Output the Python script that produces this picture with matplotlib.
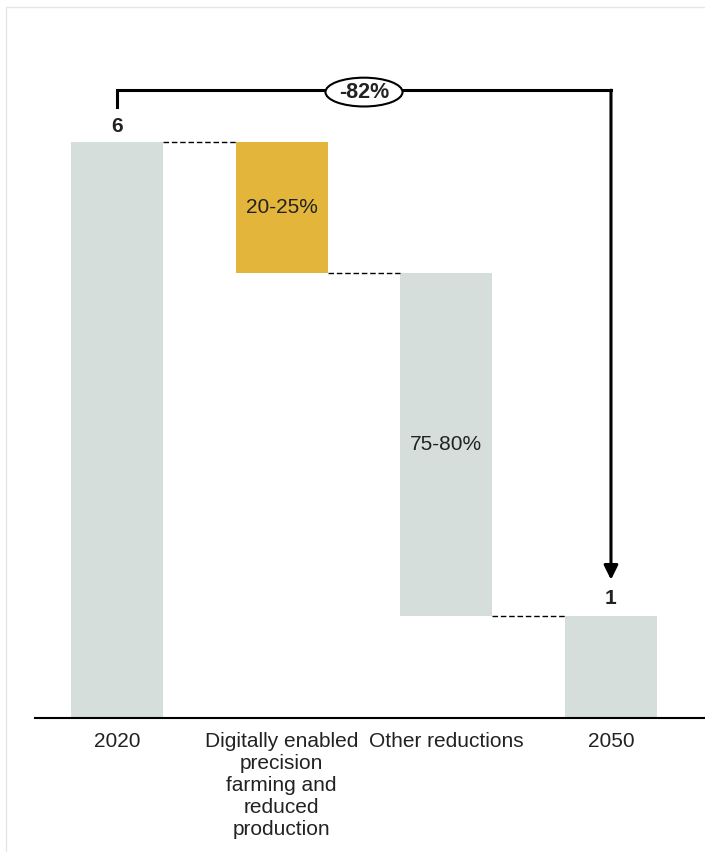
import matplotlib.pyplot as plt
from matplotlib.patches import Rectangle, Ellipse

plt.rcParams['font.family'] = ['Liberation Sans', 'DejaVu Sans']

# Emissions waterfall, 2020 -> 2050
categories = ["2020", "Digitally enabled\nprecision\nfarming and\nreduced\nproduction",
              "Other reductions", "2050"]
start_value = 6.0
reductions = [1.36, 3.58]
reduction_labels = ["20-25%", "75-80%"]
end_value = start_value - sum(reductions)
total_change_label = "-82%"

GRAY = "#d5dedb"
GOLD = "#e3b53b"
TEXT = "#222222"

fig = plt.figure(figsize=(7.05, 8.52), dpi=100)
ax = fig.add_axes([35 / 705, 134 / 852, 670 / 705, 698 / 852])

# light frame around the figure
fig.patches.append(Rectangle((6 / 705, -0.05), 1.2, 1 - 7 / 852 + 0.05,
                             transform=fig.transFigure, fill=False,
                             edgecolor="#e3e6e5", linewidth=1.0))

x = list(range(len(categories)))
width = 0.56

# totals
ax.bar(x[0], start_value, width=width, color=GRAY)
ax.bar(x[3], end_value, width=width, color=GRAY)

# floating reduction segments
level = start_value
colors = [GOLD, GRAY]
for i, (r, lab, c) in enumerate(zip(reductions, reduction_labels, colors)):
    ax.bar(x[i + 1], -r, bottom=level, width=width, color=c)
    ax.text(x[i + 1], level - r / 2, lab, ha="center", va="center",
            fontsize=15, color=TEXT)
    level -= r

# dashed connectors between bars
levels = [start_value, start_value - reductions[0], end_value]
for i, lv in enumerate(levels):
    ax.plot([x[i] + width / 2, x[i + 1] - width / 2], [lv, lv],
            color="black", linestyle=(0, (4, 2)), linewidth=1.0)

# total labels
ax.text(x[0], start_value + 0.16, f"{start_value:.0f}", ha="center", va="center",
        fontsize=15, fontweight="bold", color=TEXT)
ax.text(x[3], end_value + 0.18, f"{end_value:.0f}", ha="center", va="center",
        fontsize=15, fontweight="bold", color=TEXT)

# bracket with arrow showing the overall change
top_y = 6.54
ax.plot([x[0], x[0], x[3]], [start_value + 0.36, top_y, top_y],
        color="black", linewidth=2.2, solid_joinstyle="miter",
        solid_capstyle="projecting", clip_on=False)
ax.annotate("", xy=(x[3], end_value + 0.38), xytext=(x[3], top_y),
            arrowprops=dict(arrowstyle="-|>,head_length=0.85,head_width=0.42",
                            color="black", linewidth=2.2, shrinkA=0, shrinkB=0),
            annotation_clip=False)
ax.add_patch(Ellipse((1.5, top_y - 0.02), 0.468, 0.30, facecolor="white",
                     edgecolor="black", linewidth=1.5, zorder=3, clip_on=False))
ax.text(1.5, top_y - 0.02, total_change_label, ha="center", va="center",
        fontsize=15.5, fontweight="bold", color=TEXT, zorder=4)

ax.set_xlim(-0.498, 3.571)
ax.set_ylim(0, 698 / 96)
ax.set_xticks(x)
ax.set_xticklabels(categories, fontsize=15, color=TEXT, linespacing=1.2)
ax.tick_params(axis="x", length=0, pad=10)
ax.set_yticks([])
for side in ["top", "right", "left"]:
    ax.spines[side].set_visible(False)
ax.spines["bottom"].set_color("black")
ax.spines["bottom"].set_linewidth(1.5)

fig.savefig("out.png", dpi=100)
